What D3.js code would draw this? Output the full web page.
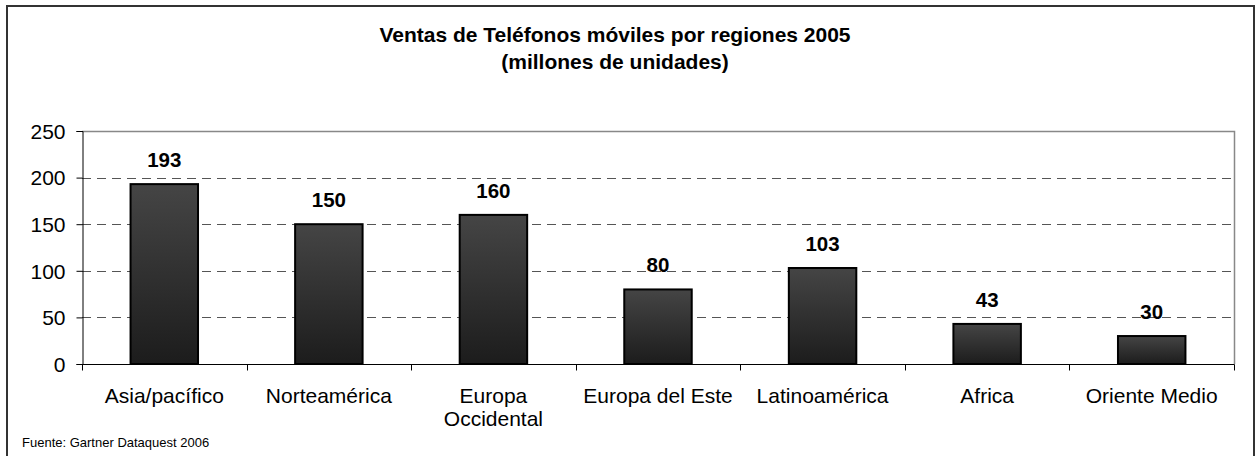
<!DOCTYPE html>
<html><head><meta charset="utf-8">
<script src="https://cdn.jsdelivr.net/npm/d3@7"></script>
<style>html,body{margin:0;padding:0;background:#fff;}svg{display:block;font-family:"Liberation Sans",Arial,sans-serif;}</style>
</head><body>
<svg id="c" width="1256" height="456"></svg>
<script>
const categories = [["Asia/pacífico"],["Norteamérica"],["Europa","Occidental"],["Europa del Este"],["Latinoamérica"],["Africa"],["Oriente Medio"]];
const values = [193,150,160,80,103,43,30];
const yTicks = [0,50,100,150,200,250];
const titleLines = ["Ventas de Teléfonos móviles por regiones 2005","(millones de unidades)"];
const source = "Fuente: Gartner Dataquest 2006";

const svg = d3.select("#c");
const L=82, R=1234, T=131, B=364;
const defs = svg.append("defs");
const g = defs.append("linearGradient").attr("id","bg").attr("x1",0).attr("y1",0).attr("x2",0).attr("y2",1);
g.append("stop").attr("offset","0%").attr("stop-color","#454545");
g.append("stop").attr("offset","100%").attr("stop-color","#1c1c1c");

// outer border
svg.append("rect").attr("x",7).attr("y",6).attr("width",1247).attr("height",460).attr("fill","none").attr("stroke","#333").attr("stroke-width",2);

svg.append("text").attr("x",615).attr("y",42).attr("text-anchor","middle").attr("font-weight","bold").attr("font-size",21).text(titleLines[0]);
svg.append("text").attr("x",615).attr("y",69).attr("text-anchor","middle").attr("font-weight","bold").attr("font-size",21).text(titleLines[1]);

const x = d3.scaleBand().domain(d3.range(categories.length)).range([L,R]).paddingInner(0.59).paddingOuter(0.295);
const y = d3.scaleLinear().domain([0,250]).range([B,T]);

// gridlines
svg.append("g").selectAll("line").data(yTicks.filter(t=>t>0&&t<250)).join("line")
  .attr("x1",L).attr("x2",R).attr("y1",d=>Math.round(y(d))+0.5).attr("y2",d=>Math.round(y(d))+0.5)
  .attr("stroke","#555").attr("stroke-dasharray","9,6");
// top and right frame
svg.append("path").attr("d",`M${L},${T+0.5}H${R+0.5}V${B}`).attr("fill","none").attr("stroke","#888").attr("stroke-width",1.5);

// bars
svg.append("g").selectAll("rect").data(values).join("rect")
  .attr("x",(d,i)=>x(i)).attr("width",x.bandwidth()).attr("y",d=>y(d)).attr("height",d=>B-y(d))
  .attr("fill","url(#bg)").attr("stroke","#000").attr("stroke-width",2);

// value labels
svg.append("g").selectAll("text").data(values).join("text")
  .attr("x",(d,i)=>x(i)+x.bandwidth()/2).attr("y",d=>y(d)-17)
  .attr("text-anchor","middle").attr("font-weight","bold").attr("font-size",20.5).text(d=>d);

// y axis
const ya = svg.append("g").attr("transform",`translate(${L+0.5},0)`).call(d3.axisLeft(y).tickValues(yTicks).tickSize(6).tickPadding(11));
ya.select(".domain").attr("stroke","#000");
ya.selectAll(".tick line").attr("stroke","#000");
ya.selectAll(".tick text").attr("font-size",21).attr("font-family","Liberation Sans, Arial, sans-serif").attr("fill","#000").attr("dy","0.35em");

// x axis
const step = x.step();
const xa = svg.append("g").attr("transform",`translate(0,${B+0.5})`);
xa.append("line").attr("x1",L).attr("x2",R+0.5).attr("stroke","#000");
xa.selectAll(".tk").data(d3.range(categories.length+1)).join("line").attr("class","tk")
  .attr("x1",i=>Math.round(L+i*step)+0.5).attr("x2",i=>Math.round(L+i*step)+0.5).attr("y1",0).attr("y2",6).attr("stroke","#000");
const lab = svg.append("g").selectAll("text").data(categories).join("text")
  .attr("x",(d,i)=>x(i)+x.bandwidth()/2).attr("y",403).attr("text-anchor","middle").attr("font-size",21);
lab.selectAll("tspan").data(d=>d).join("tspan").attr("x",function(){return this.parentNode.getAttribute("x");}).attr("dy",(d,i)=>i?23:0).text(d=>d);

svg.append("text").attr("x",22).attr("y",447).attr("font-size",13).text(source);
</script>
</body></html>
